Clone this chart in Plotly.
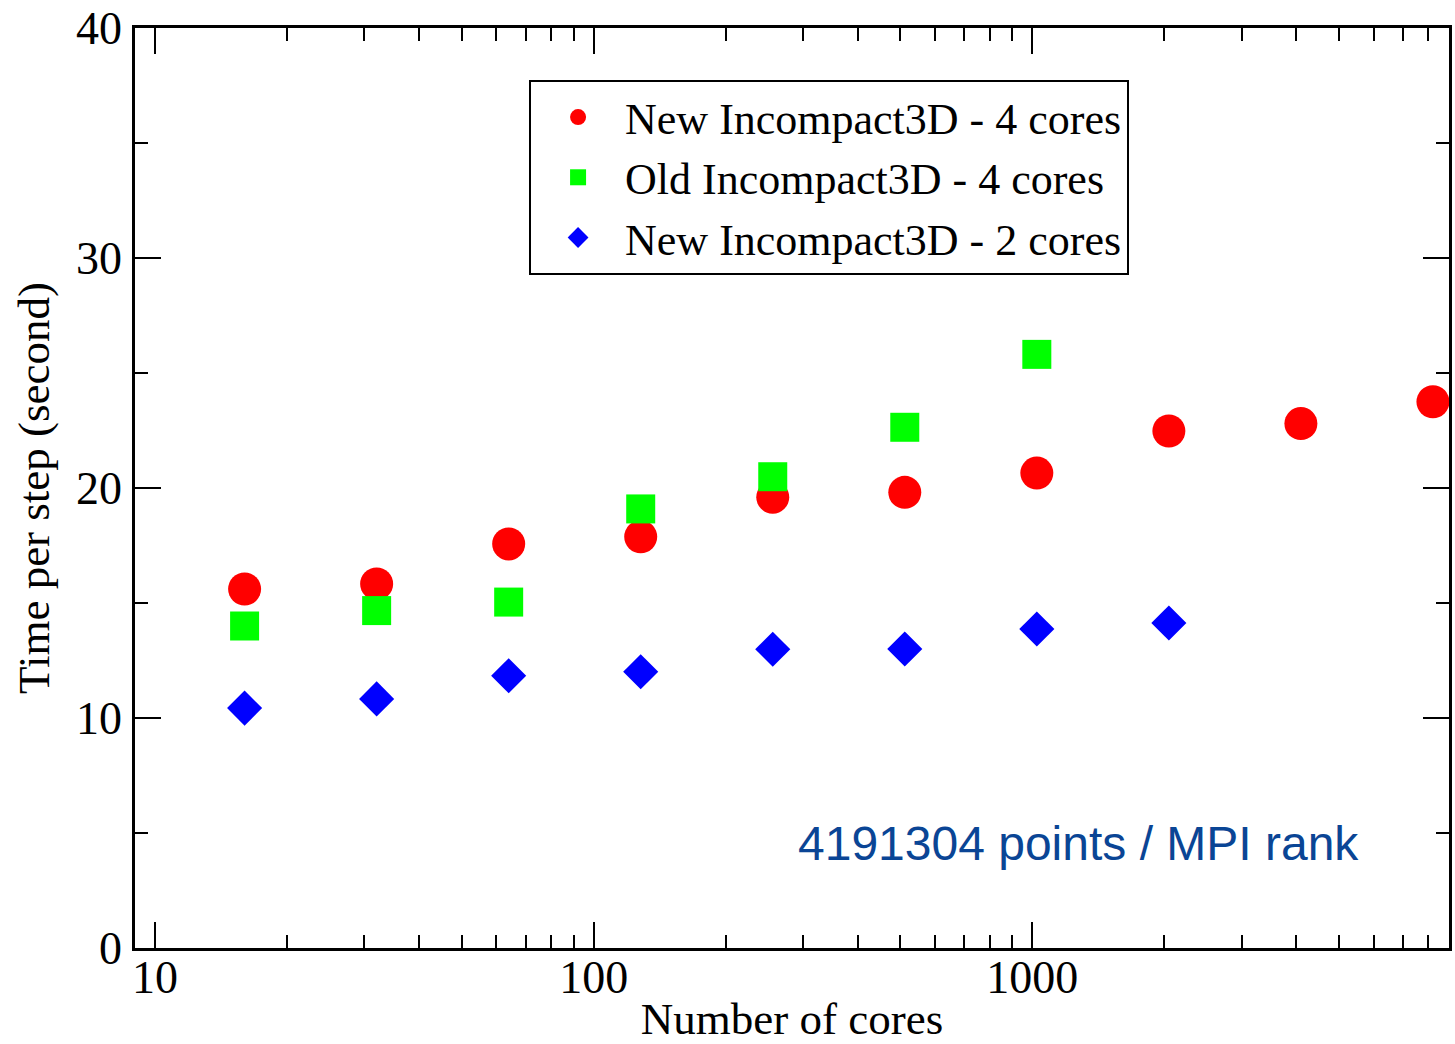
import math
import plotly.graph_objects as go

# ---- data ----
cores_new4 = [16, 32, 64, 128, 256, 512, 1024, 2048, 4096, 8192]
time_new4 = [15.61, 15.83, 17.57, 17.88, 19.60, 19.81, 20.65, 22.48, 22.80, 23.75]

cores_old4 = [16, 32, 64, 128, 256, 512, 1024]
time_old4 = [14.00, 14.67, 15.04, 19.09, 20.49, 22.64, 25.81]

cores_new2 = [16, 32, 64, 128, 256, 512, 1024, 2048]
time_new2 = [10.43, 10.83, 11.84, 12.01, 12.99, 13.00, 13.87, 14.13]

series_names = ["New Incompact3D - 4 cores",
                "Old Incompact3D - 4 cores",
                "New Incompact3D - 2 cores"]

x_tickvals = [10, 100, 1000]
x_ticktext = ["10", "100", "1000"]
x_minor_ticks = [m * d for d in (10, 100, 1000) for m in range(2, 10)]
y_tickvals = [0, 10, 20, 30, 40]
y_ticktext = ["0", "10", "20", "30", "40"]

x_title = "Number of cores"
y_title = "Time per step (second)"
note_text = "4191304 points / MPI rank"

SERIF = "Liberation Serif"
SANS = "Liberation Sans"

fig = go.Figure()
fig.add_trace(go.Scatter(x=cores_new4, y=time_new4, mode="markers", name=series_names[0],
                         marker=dict(symbol="circle", size=33, color="#ff0000", line=dict(width=0))))
fig.add_trace(go.Scatter(x=cores_old4, y=time_old4, mode="markers", name=series_names[1],
                         marker=dict(symbol="square", size=29, color="#00ff00", line=dict(width=0))))
fig.add_trace(go.Scatter(x=cores_new2, y=time_new2, mode="markers", name=series_names[2],
                         marker=dict(symbol="diamond", size=27, color="#0000ff", line=dict(width=0))))

axis_common = dict(
    showline=True, linecolor="black", linewidth=2.5, mirror="allticks",
    ticks="inside", ticklen=26, tickwidth=2, tickcolor="black",
    showgrid=False, zeroline=False,
    tickfont=dict(family=SERIF, size=46, color="black"),
)

fig.update_xaxes(
    type="log", range=[math.log10(9.0), math.log10(8913)],
    tickmode="array", tickvals=x_tickvals, ticktext=x_ticktext,
    minor=dict(ticks="inside", ticklen=13, tickwidth=2, tickcolor="black",
               tickmode="array", tickvals=x_minor_ticks, showgrid=False),
    title=dict(text=x_title, font=dict(family=SERIF, size=45, color="black"), standoff=12),
    ticklabelstandoff=-13,
    **axis_common,
)
fig.update_yaxes(
    range=[0, 40],
    tickmode="array", tickvals=y_tickvals, ticktext=y_ticktext,
    minor=dict(ticks="inside", ticklen=13, tickwidth=2, tickcolor="black", dtick=5, showgrid=False),
    title=dict(text=y_title, font=dict(family=SERIF, size=45, color="black"), standoff=13),
    ticklabelstandoff=1,
    **axis_common,
)

fig.add_annotation(
    text=note_text, xref="paper", yref="paper", x=0.718, y=0.114,
    xanchor="center", yanchor="middle", showarrow=False,
    font=dict(family=SANS, size=48, color="#0a4595"),
)

fig.update_layout(
    width=1455, height=1044,
    margin=dict(l=135, r=6, t=28, b=96, autoexpand=False),
    paper_bgcolor="white", plot_bgcolor="white",
    showlegend=True,
    legend=dict(
        x=0.2999, y=0.9435, xanchor="left", yanchor="top",
        bgcolor="white", bordercolor="black", borderwidth=2,
        font=dict(family=SERIF, size=44, color="black"),
        itemwidth=84, itemsizing="trace", tracegroupgap=0,
    ),
)

fig.write_html("out.html")
